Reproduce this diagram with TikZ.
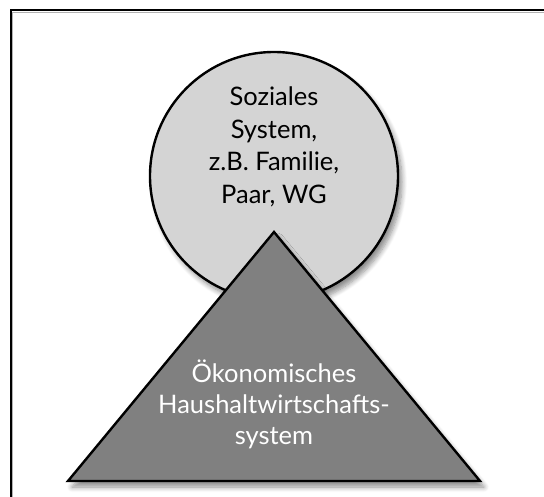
\documentclass[tikz,border=0pt]{standalone}
\usepackage{fontspec}
\setmainfont{Lato}
\usetikzlibrary{shadows.blur}
\definecolor{circfill}{HTML}{D4D4D4}
\definecolor{trifill}{HTML}{808080}
\begin{document}
\begin{tikzpicture}[x=1pt,y=-1pt,
  shapeline/.style={draw=black, line width=2.4pt, line join=miter},
  sh/.style={blur shadow={shadow xshift=4pt, shadow yshift=-6pt, shadow blur steps=8, shadow blur radius=5pt, shadow opacity=45}},
  lbl/.style={align=center, font=\fontsize{25.5}{32.5}\selectfont, inner sep=0pt}]
\useasboundingbox (0,0) rectangle (544,497);
% frame
\begin{scope}
\clip (0,0) rectangle (544,497);
\draw[gray!60, line width=1.2pt] (12.8,12.8) rectangle (560,520);
\draw[black, line width=2pt] (10.5,10.5) rectangle (560,520);
\end{scope}
% circle
\path[shapeline, fill=circfill, sh] (274,176) circle (124);
\node[lbl, text=black] (soz) at (274,147) {Soziales\\System,\\z.B. Familie,\\Paar, WG};
% triangle
\path[shapeline, fill=trifill, sh] (274,232) -- (480,481) -- (68,481) -- cycle;
\node[lbl, text=white, font=\fontsize{25.5}{31}\selectfont] (oek) at (274,404) {Ökonomisches\\Haushaltwirtschafts-\\system};
\end{tikzpicture}
\end{document}
